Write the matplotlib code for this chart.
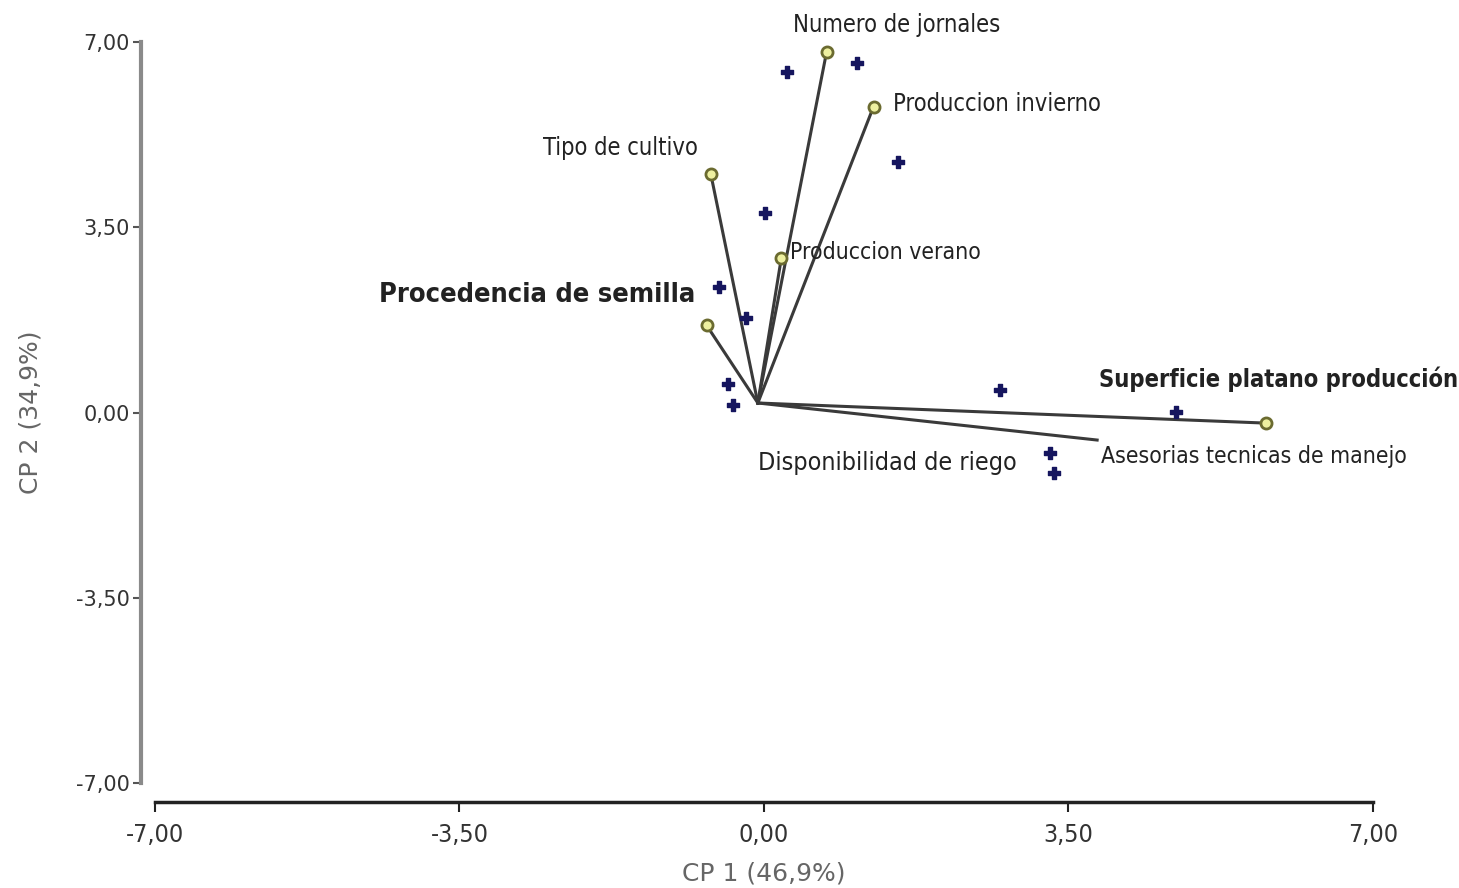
import matplotlib.pyplot as plt
import numpy as np

# Observaciones (scores) en CP1 / CP2
obs_x = [0.26, 1.07, 1.54, 0.01, -0.52, -0.21, -0.41, -0.36, 2.71, 4.74, 3.29, 3.33]
obs_y = [6.44, 6.61, 4.74, 3.77, 2.37, 1.79, 0.54, 0.14, 0.43, 0.01, -0.77, -1.14]

# Variables (loadings)
var_names = ['Numero de jornales', 'Produccion invierno', 'Tipo de cultivo',
             'Produccion verano', 'Procedencia de semilla',
             'Superficie platano producción', 'Asesorias tecnicas de manejo']
var_x = [0.72, 1.26, -0.61, 0.20, -0.66, 5.77, 3.83]
var_y = [6.81, 5.78, 4.50, 2.92, 1.65, -0.20, -0.52]
var_marker = [True, True, True, True, True, True, False]
origin = (-0.07, 0.18)

ticks = [-7.0, -3.5, 0.0, 3.5, 7.0]

fig = plt.figure(figsize=(14.59, 8.88), dpi=100)
ax = fig.add_axes([0.1062, 0.1182, 0.8348, 0.8345])

# vectores de las variables
for x, y, m in zip(var_x, var_y, var_marker):
    ax.plot([origin[0], x], [origin[1], y], color='#3a3a3a', lw=2.2, zorder=2)
    if m:
        ax.plot(x, y, 'o', ms=8, mfc='#eef0a0', mec='#6b6b30', mew=2, zorder=4)

ax.scatter(obs_x, obs_y, marker='P', s=80, color='#15155e', zorder=3)

# etiquetas de las variables
lab = dict(color='#222222', family='DejaVu Sans', fontstretch='condensed', va='center')
ax.text(1.53, 7.33, var_names[0], ha='center', fontsize=17, **lab)
ax.text(1.48, 5.83, var_names[1], ha='left', fontsize=17, **lab)
ax.text(-0.76, 5.00, var_names[2], ha='right', fontsize=17, **lab)
ax.text(0.30, 3.02, var_names[3], ha='left', fontsize=16.5, **lab)
ax.text(3.87, -0.84, var_names[6], ha='left', fontsize=16.5, **lab)

wide = dict(color='#222222', family='DejaVu Sans', va='center',
            fontstretch='condensed', weight='bold')
ax.text(-0.79, 2.22, var_names[4], ha='right', fontsize=19.5, **wide)
ax.text(3.85, 0.63, var_names[5], ha='left', fontsize=17, **wide)
ax.text(2.91, -0.95, 'Disponibilidad de riego', ha='right', fontsize=18, **lab)

ax.set_xlim(-7, 7)
ax.set_ylim(-7, 7)
ax.set_xticks(ticks)
ax.set_yticks(ticks)
fmt = [f'{t:.2f}'.replace('.', ',') for t in ticks]
ax.set_xticklabels(fmt)
ax.set_yticklabels(fmt)

for s in ['top', 'right']:
    ax.spines[s].set_visible(False)
ax.spines['left'].set_position(('outward', 10))
ax.spines['bottom'].set_position(('outward', 14))
ax.spines['left'].set_color('#8a8a8a')
ax.spines['left'].set_linewidth(3)
ax.spines['bottom'].set_color('#222222')
ax.spines['bottom'].set_linewidth(2.5)
ax.tick_params(axis='y', length=6, width=1.5, color='#555555', pad=2,
               labelsize=15, labelcolor='#333333')
ax.tick_params(axis='x', length=7, width=1.5, color='#222222', pad=8,
               labelsize=18, labelcolor='#333333')
for t in ax.get_xticklabels():
    t.set_fontstretch('condensed')

ax.set_xlabel('CP 1 (46,9%)', fontsize=18, color='#666666', labelpad=10)
ax.set_ylabel('CP 2 (34,9%)', fontsize=18, color='#666666', labelpad=24)

fig.savefig('out.png', dpi=100)
